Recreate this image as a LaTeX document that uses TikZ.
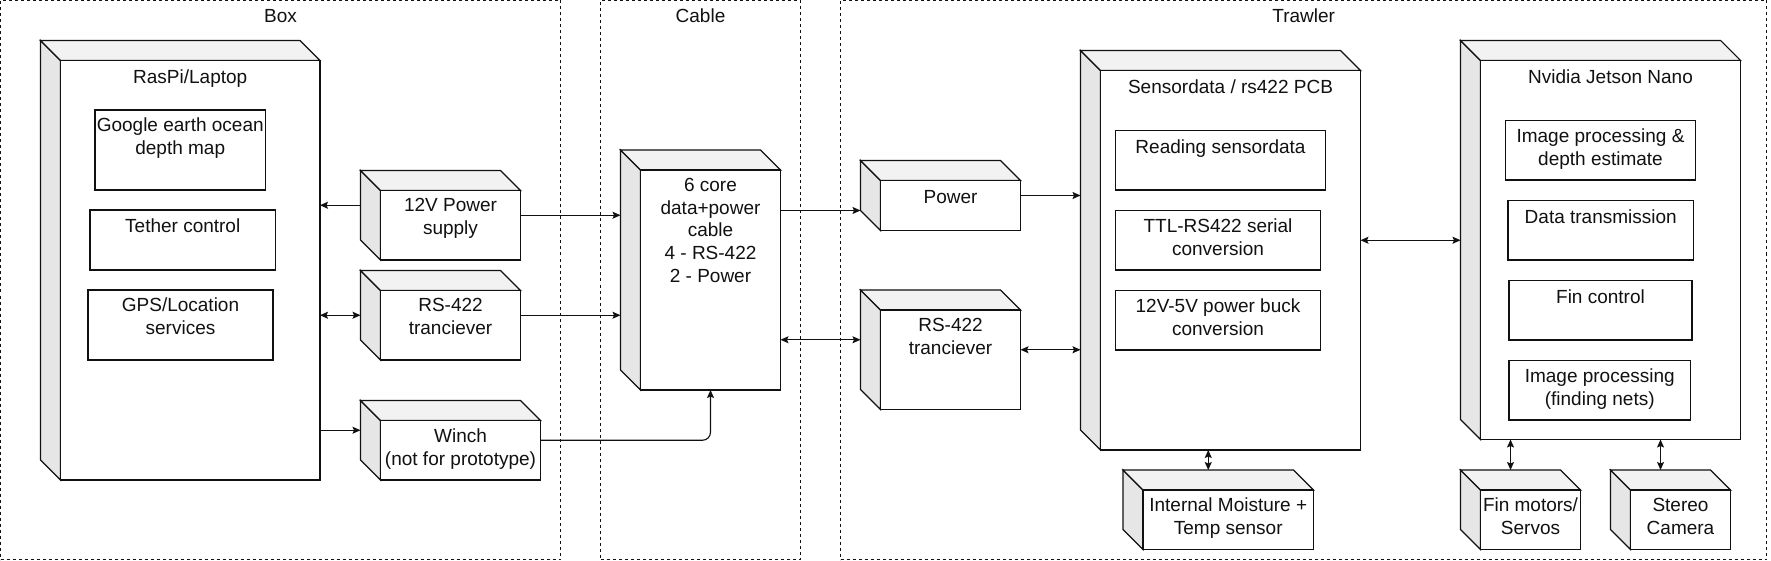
\documentclass[tikz,border=0pt]{standalone}
\usepackage{fontspec}
\setmainfont{Liberation Sans}
\usetikzlibrary{arrows.meta,calc}
\definecolor{sidegray}{HTML}{E6E6E6}
\definecolor{topgray}{HTML}{F2F2F2}
\definecolor{inkc}{HTML}{111111}
\newcommand\dfont{\fontsize{19}{22.8}\selectfont}
\tikzset{
  cont/.style={draw=inkc, dash pattern=on 3pt off 3pt, line width=1pt, inner sep=0, outer sep=0},
  face/.style={draw=inkc, fill=white, line width=1.1pt, inner sep=0, outer sep=0},
  ghost/.style={inner sep=0, outer sep=0},
  sidef/.style={draw=inkc, fill=sidegray, line width=1.1pt, line join=miter},
  topf/.style={draw=inkc, fill=topgray, line width=1.1pt, line join=miter},
  txt/.style={anchor=north, align=center, inner sep=0, outer sep=0, font=\dfont, text=inkc,
              execute at begin node={\rule{0pt}{15pt}}},
  tip/.tip={Stealth[length=8pt,width=7pt,inset=1.5pt]},
  arr/.style={-tip, draw=inkc, line width=1.1pt},
  biarr/.style={tip-tip, draw=inkc, line width=1.1pt},
}
% cube: name, x1, y1, x2, y2 (front face), text
\newcommand\cubebox[6]{%
  \path[sidef] (#2-20,#3-20) -- (#2,#3) -- (#2,#5) -- (#2-20,#5-20) -- cycle;
  \path[topf] (#2-20,#3-20) -- (#4-20,#3-20) -- (#4,#3) -- (#2,#3) -- cycle;
  \node[ghost, minimum width=#4-#2, minimum height=#5-#3] (#1b) at ({(#2+#4)/2-20},{(#3+#5)/2-20}) {};
  \node[face, minimum width=#4-#2, minimum height=#5-#3] (#1) at ({(#2+#4)/2},{(#3+#5)/2}) {};
  \node[txt] (#1t) at ({(#2+#4)/2},{#3+8}) {#6};
}
% inner rectangle: name, x1, y1, x2, y2, text
\newcommand\innerbox[6]{%
  \node[face, minimum width=#4-#2, minimum height=#5-#3] (#1) at ({(#2+#4)/2},{(#3+#5)/2}) {};
  \node[txt] (#1t) at ({(#2+#4)/2},{#3+8}) {#6};
}
\begin{document}
\begin{tikzpicture}[x=1pt,y=-1pt]
\useasboundingbox (0,0) rectangle (1771,561);
\fill[white] (0,0) rectangle (1771,561);

% containers
\node[cont, minimum width=560, minimum height=559] (boxc) at (280.5,280) {};
\node[txt] (boxl) at (280.5,8) {Box};
\node[cont, minimum width=199.5, minimum height=559] (cablec) at (700.5,280) {};
\node[txt] (cablel) at (700.5,8) {Cable};
\node[cont, minimum width=926, minimum height=559] (trawlc) at (1303.7,280) {};
\node[txt] (trawll) at (1303.7,8) {Trawler};

% Box side
\cubebox{raspi}{60.5}{60.5}{320}{480}{RasPi/Laptop}
\innerbox{gemap}{95}{110}{265.5}{190}{Google earth ocean\\depth map}
\innerbox{tether}{90}{210}{275.5}{270}{Tether control}
\innerbox{gps}{88}{290}{273}{360}{GPS/Location\\services}
\cubebox{ps}{380.5}{190.5}{520.5}{260}{12V Power\\supply}
\cubebox{rsa}{380.5}{290.5}{520.5}{360}{RS-422\\tranciever}
\cubebox{winch}{380.5}{420.5}{540.5}{480}{Winch\\(not for prototype)}

% Cable
\cubebox{cbl}{640.5}{170}{780.5}{390}{6 core\\data+power\\cable\\4 - RS-422\\2 - Power}

% Trawler
\cubebox{pwr}{880.5}{180.5}{1020.5}{230.5}{Power}
\cubebox{rsb}{880.5}{310}{1020.5}{409.5}{RS-422\\tranciever}
\cubebox{pcb}{1100.5}{70.5}{1360.5}{450}{Sensordata / rs422 PCB}
\innerbox{readsd}{1115.5}{130.5}{1325.5}{190}{Reading sensordata}
\innerbox{ttl}{1115.5}{210.5}{1320.5}{270}{TTL-RS422 serial\\conversion}
\innerbox{buck}{1115.5}{290.5}{1320.5}{350}{12V-5V power buck\\conversion}
\cubebox{moist}{1143}{490}{1313.5}{549.5}{Internal Moisture +\\Temp sensor}
\cubebox{jet}{1480.5}{60.5}{1740.5}{439.5}{Nvidia Jetson Nano}
\innerbox{imgd}{1505.5}{120.5}{1695.5}{180}{Image processing \&\\depth estimate}
\innerbox{datatx}{1508}{200.5}{1693.5}{260}{Data transmission}
\innerbox{finc}{1509}{280.5}{1692}{340}{Fin control}
\innerbox{imgn}{1509}{360.5}{1690.5}{420}{Image processing\\(finding nets)}
\cubebox{finm}{1480.5}{490}{1580.5}{549.5}{Fin motors/\\Servos}
\cubebox{stereo}{1630.5}{490}{1730.5}{549.5}{Stereo\\Camera}

% connectors
\draw[arr] (psb.west) -- (psb.west -| raspi.east);
\coordinate (p1) at ([shift={(0,-10)}]ps.east);
\draw[arr] (p1) -- (p1 -| cblb.west);
\coordinate (p2) at ([shift={(0,-10)}]rsa.center);
\draw[biarr] (p2 -| raspi.east) -- (p2 -| rsab.west);
\coordinate (p4) at ([shift={(0,-10)}]rsa.east);
\draw[arr] (p4) -- (p4 -| cblb.west);
\draw[arr] (winchb.west -| raspi.east) -- (winchb.west);
\coordinate (p3) at ([shift={(0,-10)}]winch.east);
\draw[arr, rounded corners=8pt] (p3) -- (p3 -| cbl.south) -- (cbl.south);
\draw[arr] (pwrb.south west -| cbl.east) -- (pwrb.south west);
\coordinate (p5) at ([shift={(0,-10)}]pwr.east);
\draw[arr] (p5) -- (p5 -| pcbb.west);
\draw[biarr] (rsbb.west -| cbl.east) -- (rsbb.west);
\coordinate (p6) at ([shift={(0,-10)}]rsb.east);
\draw[biarr] (p6) -- (p6 -| pcbb.west);
\draw[biarr] (pcbb.east -| pcb.east) -- (pcbb.east -| jetb.west);
\draw[biarr] (moistb.north |- pcb.south) -- (moistb.north);
\draw[biarr] (finmb.north |- jet.south) -- (finmb.north);
\draw[biarr] (stereob.north |- jet.south) -- (stereob.north);
\end{tikzpicture}
\end{document}
